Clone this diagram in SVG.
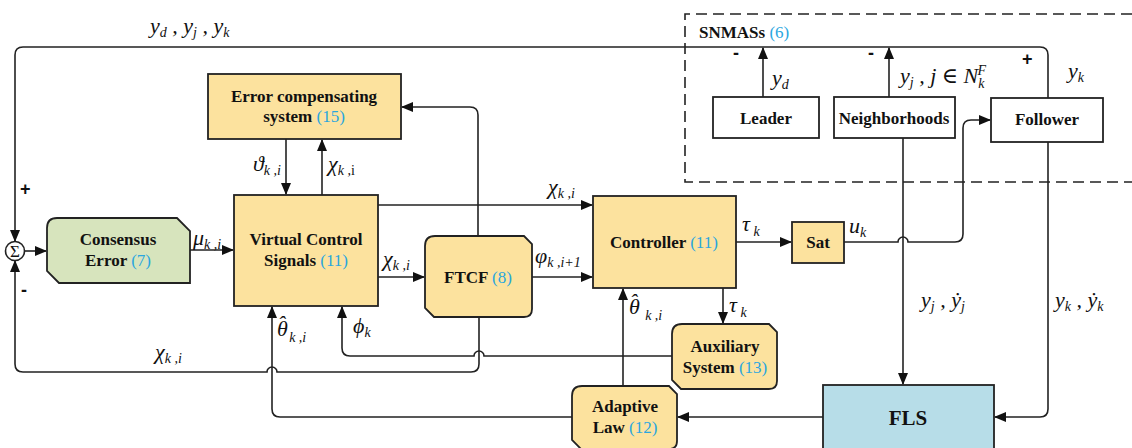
<svg xmlns="http://www.w3.org/2000/svg" width="1132" height="448" viewBox="0 0 1132 448">
<style>
.bx{stroke:#222;stroke-width:1.8}
.y{fill:#FCE29E}
.g{fill:#D7E4BD}
.b{fill:#B7DDE8}
.w{fill:#fff}
.t{font-family:"Liberation Serif","Times New Roman","DejaVu Serif",serif;font-weight:bold;font-size:17px;fill:#111;text-anchor:middle}
.n{font-weight:normal;fill:#2AA6DF}
.m{font-family:"Liberation Serif","Times New Roman","DejaVu Serif",serif;font-style:italic;font-size:22px;fill:#111}
.s{font-size:14px}
.ln{fill:none;stroke:#222;stroke-width:1.6}
.sg{font-family:"Liberation Sans",Arial,sans-serif;font-weight:bold;font-size:18px;fill:#111}
</style>
<defs>
<marker id="a" markerWidth="12" markerHeight="10" refX="11" refY="5" orient="auto" markerUnits="userSpaceOnUse">
<path d="M0,0 L12,5 L0,10 Z" fill="#111"/>
</marker>
</defs>
<rect width="1132" height="448" fill="#fff"/>

<g id="snmass-region">
<path d="M1132 14 H685 V182 H1132" fill="none" stroke="#222" stroke-width="1.6" stroke-dasharray="11 6"/>
<text x="699" y="38" class="t" style="text-anchor:start">SNMASs <tspan class="n">(6)</tspan></text>
</g>

<g id="connectors">
<path class="ln" d="M1048 98 V55 Q1048 47 1040 47 H23 Q15 47 15 55 V241" marker-end="url(#a)"/>
<path class="ln" d="M763 97 V48" marker-end="url(#a)"/>
<path class="ln" d="M889 97 V48" marker-end="url(#a)"/>
<path class="ln" d="M479 317 V364 Q479 372 471 372 H277 A5 5 0 0 0 267 372 H23 Q15 372 15 364 V261" marker-end="url(#a)"/>
<path class="ln" d="M672 356 H484 A5 5 0 0 0 474 356 H350 Q342 356 342 348 V307" marker-end="url(#a)"/>
<path class="ln" d="M572 417 H280 Q272 417 272 409 V307" marker-end="url(#a)"/>
<path class="ln" d="M623 386 V289" marker-end="url(#a)"/>
<path class="ln" d="M823 417 H678" marker-end="url(#a)"/>
<path class="ln" d="M1048 142 V409 Q1048 417 1040 417 H995" marker-end="url(#a)"/>
<path class="ln" d="M903 138 V384" marker-end="url(#a)"/>
<path class="ln" d="M844 242 H898 A5 5 0 0 1 908 242 H955 Q963 242 963 234 V128 Q963 120 971 120 H990" marker-end="url(#a)"/>
<path class="ln" d="M736 242 H791" marker-end="url(#a)"/>
<path class="ln" d="M723 288 V323" marker-end="url(#a)"/>
<path class="ln" d="M532 277 H592" marker-end="url(#a)"/>
<path class="ln" d="M378 277 H424" marker-end="url(#a)"/>
<path class="ln" d="M378 205 H592" marker-end="url(#a)"/>
<path class="ln" d="M190 250 H233" marker-end="url(#a)"/>
<path class="ln" d="M24 251 H46" marker-end="url(#a)"/>
<path class="ln" d="M286 139 V194" marker-end="url(#a)"/>
<path class="ln" d="M322 195 V140" marker-end="url(#a)"/>
<path class="ln" d="M478 236 V115 Q478 107 470 107 H402" marker-end="url(#a)"/>
</g>

<g id="labels">
<text class="m" x="150" y="33">y<tspan class="s" dy="4">d</tspan><tspan dy="-4"> , y</tspan><tspan class="s" dy="4">j</tspan><tspan dy="-4"> , y</tspan><tspan class="s" dy="4">k</tspan></text>
<text class="m" x="253" y="171">ϑ<tspan class="s" dy="4">k ,i</tspan></text>
<text class="m" x="328" y="171">χ<tspan class="s" dy="4">k ,</tspan><tspan class="s" style="font-style:normal">i</tspan></text>
<text class="m" x="193" y="245">μ<tspan class="s" dy="4">k ,i</tspan></text>
<text class="m" x="383" y="266">χ<tspan class="s" dy="4">k ,i</tspan></text>
<text class="m" x="548" y="194">χ<tspan class="s" dy="4">k ,i</tspan></text>
<text class="m" x="535" y="263">φ<tspan class="s" dy="4">k ,i+1</tspan></text>
<text class="m" x="742" y="231">τ<tspan class="s" dy="5"> k</tspan></text>
<text class="m" x="849" y="233">u<tspan class="s" dy="4">k</tspan></text>
<text class="m" x="729" y="312">τ<tspan class="s" dy="5"> k</tspan></text>
<text class="m" x="629" y="314">θ<tspan dx="-10" dy="-5">ˆ</tspan><tspan class="s" dx="8" dy="11">k ,i</tspan></text>
<text class="m" x="277" y="336">θ<tspan dx="-10" dy="-5">ˆ</tspan><tspan class="s" dx="4" dy="11">k ,i</tspan></text>
<text class="m" x="353" y="333">ϕ<tspan class="s" dy="4">k</tspan></text>
<text class="m" x="155" y="359">χ<tspan class="s" dy="4">k ,i</tspan></text>
<text class="m" x="772" y="85">y<tspan class="s" dy="4">d</tspan></text>
<text class="m" x="900" y="83">y<tspan class="s" dy="4">j</tspan><tspan dy="-4"> , j ∈ N</tspan><tspan class="s" dy="5">k</tspan><tspan class="s" dx="-7" dy="-13">F</tspan></text>
<text class="m" x="1068" y="78">y<tspan class="s" dy="4">k</tspan></text>
<text class="m" x="921" y="307">y<tspan class="s" dy="4">j</tspan><tspan dy="-4"> , ẏ</tspan><tspan class="s" dy="4">j</tspan></text>
<text class="m" x="1055" y="307">y<tspan class="s" dy="4">k</tspan><tspan dy="-4"> , ẏ</tspan><tspan class="s" dy="4">k</tspan></text>
<text class="sg" x="20" y="195">+</text>
<text class="sg" x="21" y="296">-</text>
<text class="sg" x="733" y="59">-</text>
<text class="sg" x="868" y="59">-</text>
<text class="sg" x="1022" y="65">+</text>
</g>

<g id="sum">
<circle cx="15" cy="251" r="9.5" fill="#fff" stroke="#222" stroke-width="1.6"/>
<text x="15" y="257" style="font-family:'Liberation Serif',serif;font-size:17px;text-anchor:middle;fill:#111">Σ</text>
</g>

<g id="error-compensating">
<rect class="bx y" x="208" y="74" width="193" height="65"/>
<text class="t" x="304" y="102">Error compensating</text>
<text class="t" x="304" y="122">system <tspan class="n">(15)</tspan></text>
</g>

<g id="consensus-error">
<path class="bx g" d="M57 218 H177 L190 231 V283 H59 L47 271 V228 Q47 218 57 218 Z"/>
<text class="t" x="118" y="245">Consensus</text>
<text class="t" x="118" y="266">Error <tspan class="n">(7)</tspan></text>
</g>

<g id="virtual-control">
<rect class="bx y" x="234" y="195" width="144" height="111"/>
<text class="t" x="306" y="245">Virtual Control</text>
<text class="t" x="306" y="266">Signals <tspan class="n">(11)</tspan></text>
</g>

<g id="ftcf">
<path class="bx y" d="M435 236 H524 L532 244 V309 Q532 317 524 317 H434 L425 308 V246 Q425 236 435 236 Z"/>
<text class="t" x="478" y="283">FTCF <tspan class="n">(8)</tspan></text>
</g>

<g id="controller">
<rect class="bx y" x="593" y="196" width="143" height="92"/>
<text class="t" x="664" y="248">Controller <tspan class="n">(11)</tspan></text>
</g>

<g id="sat">
<rect class="bx y" x="792" y="222" width="52" height="41"/>
<text class="t" x="818" y="248">Sat</text>
</g>

<g id="auxiliary">
<path class="bx y" d="M682 324 H769 L777 332 V381 Q777 389 769 389 H681 L672 380 V334 Q672 324 682 324 Z"/>
<text class="t" x="725" y="352">Auxiliary</text>
<text class="t" x="725" y="373">System <tspan class="n">(13)</tspan></text>
</g>

<g id="adaptive-law">
<path class="bx y" d="M582 386 H669 L677 394 V441 Q677 449 669 449 H581 L572 440 V396 Q572 386 582 386 Z"/>
<text class="t" x="625" y="412">Adaptive</text>
<text class="t" x="625" y="433">Law <tspan class="n">(12)</tspan></text>
</g>

<g id="fls">
<rect class="bx b" x="823" y="385" width="171" height="70"/>
<text class="t" x="908" y="425" style="font-size:21px">FLS</text>
</g>

<g id="leader">
<rect class="bx w" x="713" y="97" width="106" height="41"/>
<text class="t" x="766" y="124">Leader</text>
</g>

<g id="neighborhoods">
<rect class="bx w" x="834" y="97" width="121" height="41"/>
<text class="t" x="894" y="124">Neighborhoods</text>
</g>

<g id="follower">
<rect class="bx w" x="991" y="98" width="112" height="44"/>
<text class="t" x="1047" y="125">Follower</text>
</g>
</svg>
